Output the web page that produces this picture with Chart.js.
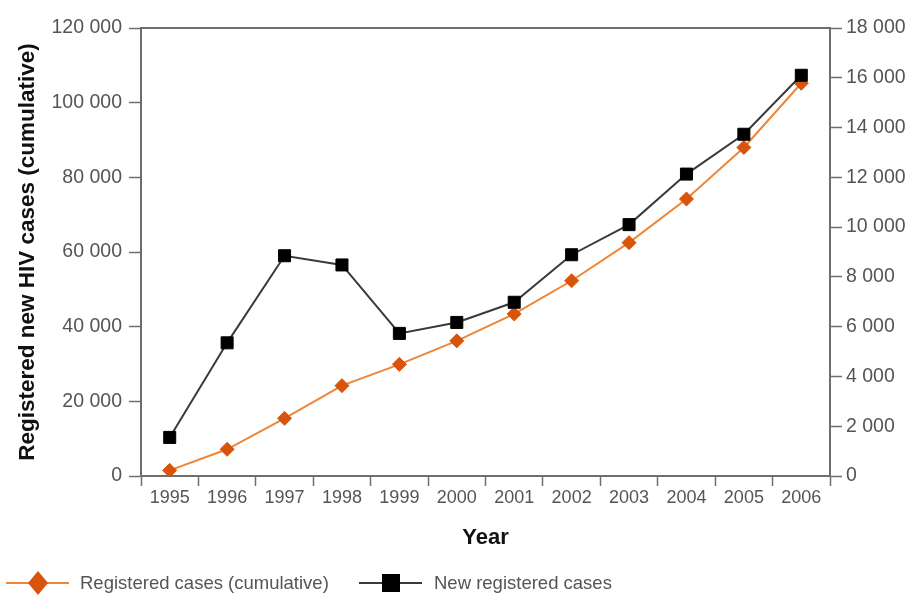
<!DOCTYPE html>
<html><head><meta charset="utf-8">
<script src="https://cdn.jsdelivr.net/npm/chart.js@4"></script>
<style>html,body{margin:0;padding:0;background:#fff}#wrap{width:917px;height:598px;position:relative}canvas{display:block}</style>
</head><body><div id="wrap"><canvas id="c" width="917" height="598"></canvas></div>
<script>
const years = ['1995','1996','1997','1998','1999','2000','2001','2002','2003','2004','2005','2006'];
const cumulativeCases = [1500, 7150, 15450, 24200, 29900, 36200, 43400, 52300, 62500, 74200, 88000, 105200];
const newCases = [1550, 5350, 8850, 8480, 5730, 6170, 6980, 8890, 10100, 12130, 13730, 16100];
const leftTicks = [0, 20000, 40000, 60000, 80000, 100000, 120000];
const leftTickLabels = ['0', '20 000', '40 000', '60 000', '80 000', '100 000', '120 000'];
const rightTicks = [0, 2000, 4000, 6000, 8000, 10000, 12000, 14000, 16000, 18000];
const rightTickLabels = ['0', '2 000', '4 000', '6 000', '8 000', '10 000', '12 000', '14 000', '16 000', '18 000'];
const seriesNames = ['Registered cases (cumulative)', 'New registered cases'];
const leftTitle = 'Registered new HIV cases (cumulative)';
const xTitle = 'Year';

const AXIS = '#6e6e6e';
const TXT = '#555555';
const FONT = "'Liberation Sans', Arial, Helvetica, sans-serif";

const framePlugin = {
  id: 'frame',
  beforeDatasetsDraw(chart) {
    const {ctx, chartArea: a} = chart;
    ctx.save();
    ctx.strokeStyle = AXIS;
    ctx.lineWidth = 2;
    ctx.beginPath();
    ctx.moveTo(a.left - 1, a.top);
    ctx.lineTo(a.right + 1, a.top);
    ctx.stroke();
    ctx.restore();
  }
};

const legendPlugin = {
  id: 'customLegend',
  afterDraw(chart) {
    const ctx = chart.ctx;
    const ds = chart.data.datasets;
    const y = 583;
    ctx.save();
    ctx.font = '18.5px ' + FONT;
    ctx.textBaseline = 'middle';
    ctx.fillStyle = TXT;
    // item 1
    let d = ds[0];
    ctx.strokeStyle = d.borderColor; ctx.lineWidth = 2;
    ctx.beginPath(); ctx.moveTo(6, y); ctx.lineTo(69, y); ctx.stroke();
    ctx.fillStyle = d.pointBackgroundColor;
    ctx.beginPath(); ctx.moveTo(38, y - 12); ctx.lineTo(48, y); ctx.lineTo(38, y + 12); ctx.lineTo(28, y); ctx.closePath(); ctx.fill();
    ctx.fillStyle = TXT;
    ctx.fillText(d.label, 80, y + 1);
    // item 2
    d = ds[1];
    ctx.strokeStyle = d.borderColor; ctx.lineWidth = 2;
    ctx.beginPath(); ctx.moveTo(359, y); ctx.lineTo(422, y); ctx.stroke();
    ctx.fillStyle = d.pointBackgroundColor;
    ctx.fillRect(382, y - 9, 18, 18);
    ctx.fillStyle = TXT;
    ctx.fillText(d.label, 434, y + 1);
    ctx.restore();
  }
};

const fmt = (labels) => (v, i) => labels[i];

new Chart(document.getElementById('c'), {
  type: 'line',
  data: {
    labels: years,
    datasets: [
      {
        label: seriesNames[0], data: cumulativeCases, yAxisID: 'y',
        borderColor: '#ef8535', borderWidth: 2,
        pointStyle: 'rectRot', pointRadius: 7, pointHoverRadius: 7,
        pointBackgroundColor: '#d9540b', pointBorderColor: '#d9540b', pointBorderWidth: 1,
        tension: 0, order: 2
      },
      {
        label: seriesNames[1], data: newCases, yAxisID: 'y2',
        borderColor: '#3a3a3a', borderWidth: 2,
        pointStyle: 'rect', pointRadius: 8.5, pointHoverRadius: 8.5,
        pointBackgroundColor: '#000000', pointBorderColor: '#000000', pointBorderWidth: 1,
        tension: 0, order: 1
      }
    ]
  },
  options: {
    responsive: false,
    animation: false,
    devicePixelRatio: 1,
    layout: {padding: {top: 28, left: 0, right: 0, bottom: 42}},
    plugins: {legend: {display: false}, tooltip: {enabled: false}},
    scales: {
      x: {
        type: 'category', position: 'bottom', offset: true,
        grid: {offset: true, drawOnChartArea: false, drawTicks: true, tickLength: 10, tickColor: AXIS, tickWidth: 1.5, color: AXIS},
        border: {display: true, color: AXIS, width: 2},
        ticks: {color: TXT, font: {family: FONT, size: 18}, padding: 1, maxRotation: 0, autoSkip: false},
        title: {display: true, text: xTitle, color: '#111', font: {family: FONT, size: 22, weight: 'bold'}, padding: {top: 0, bottom: 5}},
        afterFit(s) { s.height = 80; }
      },
      y: {
        position: 'left', min: 0, max: 120000,
        afterBuildTicks(s) { s.ticks = leftTicks.map(v => ({value: v})); },
        grid: {drawOnChartArea: false, drawTicks: true, tickLength: 12, tickColor: AXIS, tickWidth: 1.5, color: AXIS},
        border: {display: true, color: AXIS, width: 2},
        ticks: {color: TXT, font: {family: FONT, size: 19.5}, padding: 7, callback: fmt(leftTickLabels)},
        title: {display: true, text: leftTitle, color: '#111', font: {family: FONT, size: 22.5, weight: 'bold'}, padding: {top: 14, bottom: 0}},
        afterFit(s) { s.width = 141; }
      },
      y2: {
        position: 'right', min: 0, max: 18000,
        afterBuildTicks(s) { s.ticks = rightTicks.map(v => ({value: v})); },
        grid: {drawOnChartArea: false, drawTicks: true, tickLength: 12, tickColor: AXIS, tickWidth: 1.5, color: AXIS},
        border: {display: true, color: AXIS, width: 2},
        ticks: {color: TXT, font: {family: FONT, size: 19.5}, padding: 4, callback: fmt(rightTickLabels)},
        afterFit(s) { s.width = 87; }
      }
    }
  },
  plugins: [framePlugin, legendPlugin]
});
</script>
</body></html>
